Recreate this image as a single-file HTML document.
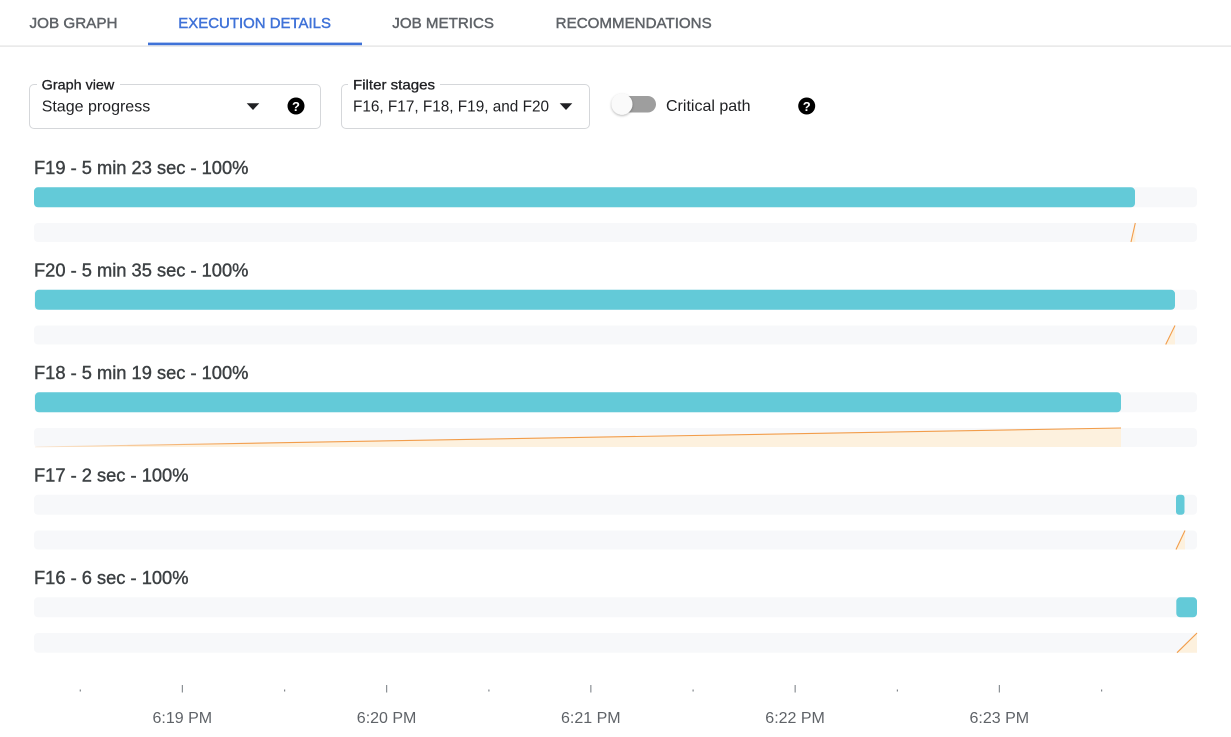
<!DOCTYPE html>
<html><head><meta charset="utf-8"><style>
html,body{margin:0;padding:0;background:#fff;width:1231px;height:737px;overflow:hidden}
svg{display:block}
text{font-family:"Liberation Sans",Arial,sans-serif}
.tab{font-size:15px;fill:#5f6368;stroke:#5f6368;stroke-width:0.45px}
.ttl{font-size:18.3px;fill:#3c4043;stroke:#3c4043;stroke-width:0.4px}
.ax{font-size:16px;fill:#5f6368}
</style></head><body>
<svg width="1231" height="737" viewBox="0 0 1231 737" xmlns="http://www.w3.org/2000/svg">
<defs>
<linearGradient id="og" x1="0" x2="1" y1="0" y2="0">
<stop offset="0" stop-color="#f29d4b" stop-opacity="0.15"/>
<stop offset="0.2" stop-color="#f29d4b" stop-opacity="1"/>
<stop offset="1" stop-color="#f29d4b"/>
</linearGradient>
<filter id="sh" x="-50%" y="-50%" width="200%" height="200%">
<feDropShadow dx="0" dy="1" stdDeviation="1.2" flood-color="#000" flood-opacity="0.3"/>
</filter>
</defs>
<!-- Tabs -->
<text class="tab" x="29.5" y="28.2" textLength="88" lengthAdjust="spacingAndGlyphs">JOB GRAPH</text>
<text class="tab" x="178.3" y="28.2" textLength="152.7" lengthAdjust="spacingAndGlyphs" style="fill:#3f72d8;stroke:#3f72d8">EXECUTION DETAILS</text>
<text class="tab" x="392.3" y="28.2" textLength="101.7" lengthAdjust="spacingAndGlyphs">JOB METRICS</text>
<text class="tab" x="555.7" y="28.2" textLength="156" lengthAdjust="spacingAndGlyphs">RECOMMENDATIONS</text>
<rect x="0" y="45.5" width="1231" height="1.2" fill="#e0e0e0"/>
<rect x="148" y="42.6" width="214" height="2.6" fill="#3f72d8"/>

<!-- Graph view box -->
<rect x="29.5" y="84.5" width="291" height="44" rx="4.5" fill="none" stroke="#d5d7da"/>
<rect x="37" y="80" width="83" height="8" fill="#fff"/>
<text x="41.7" y="89.3" font-size="14" fill="#202124" stroke="#202124" stroke-width="0.3" textLength="72.6" lengthAdjust="spacingAndGlyphs">Graph view</text>
<text x="41.7" y="111.7" font-size="16" fill="#202124">Stage progress</text>
<path d="M246.7 103.3 L259.3 103.3 L253 110 Z" fill="#202124"/>
<circle cx="296" cy="106" r="8.5" fill="#000"/>
<text x="296" y="110.8" font-size="13" font-weight="bold" fill="#fff" text-anchor="middle">?</text>

<!-- Filter stages box -->
<rect x="341.5" y="84.5" width="248" height="44" rx="4.5" fill="none" stroke="#d5d7da"/>
<rect x="348" y="80" width="92" height="8" fill="#fff"/>
<text x="353" y="89.3" font-size="14" fill="#202124" stroke="#202124" stroke-width="0.3" textLength="82" lengthAdjust="spacingAndGlyphs">Filter stages</text>
<text x="353" y="111.7" font-size="16" fill="#202124" textLength="196" lengthAdjust="spacingAndGlyphs">F16, F17, F18, F19, and F20</text>
<path d="M559.7 103.3 L572.3 103.3 L566 110 Z" fill="#202124"/>

<!-- Toggle -->
<rect x="612" y="96" width="44" height="16.5" rx="8.25" fill="#9e9e9e"/>
<circle cx="622" cy="104.2" r="10.5" fill="#fafafa" filter="url(#sh)"/>
<text x="666" y="111" font-size="16" fill="#202124">Critical path</text>
<circle cx="806.7" cy="106" r="8.5" fill="#000"/>
<text x="806.7" y="110.8" font-size="13" font-weight="bold" fill="#fff" text-anchor="middle">?</text>

<!-- Row F19 -->
<text class="ttl" x="34" y="174.2">F19 - 5 min 23 sec - 100%</text>
<rect x="34" y="187.3" width="1163" height="20" rx="4" fill="#f7f8fa"/>
<rect x="34" y="187.3" width="1101" height="20" rx="4" fill="#63cad8"/>
<rect x="34" y="223" width="1163" height="19" rx="4" fill="#f7f8fa"/>
<path d="M1131 242 L1135.3 223 L1135.3 242 Z" fill="#fdf1de"/>
<path d="M1131 242 L1135.3 223" stroke="#f29d4b" stroke-width="1.1" fill="none"/>

<!-- Row F20 -->
<text class="ttl" x="34" y="276.7">F20 - 5 min 35 sec - 100%</text>
<rect x="34" y="289.8" width="1163" height="20" rx="4" fill="#f7f8fa"/>
<rect x="35" y="289.8" width="1140" height="20" rx="4" fill="#63cad8"/>
<rect x="34" y="325.5" width="1163" height="19" rx="4" fill="#f7f8fa"/>
<path d="M1165.7 344.5 L1175 325.5 L1175 344.5 Z" fill="#fdf1de"/>
<path d="M1165.7 344.5 L1175 325.5" stroke="#f29d4b" stroke-width="1.1" fill="none"/>

<!-- Row F18 -->
<text class="ttl" x="34" y="379.2">F18 - 5 min 19 sec - 100%</text>
<rect x="34" y="392.3" width="1163" height="20" rx="4" fill="#f7f8fa"/>
<rect x="35" y="392.3" width="1086" height="20" rx="4" fill="#63cad8"/>
<rect x="34" y="428" width="1163" height="19" rx="4" fill="#f7f8fa"/>
<path d="M35 447 L1121 428 L1121 447 Z" fill="#fdf1de"/>
<path d="M35 447 L1121 428" stroke="url(#og)" stroke-width="1.1" fill="none"/>

<!-- Row F17 -->
<text class="ttl" x="34" y="481.7">F17 - 2 sec - 100%</text>
<rect x="34" y="494.8" width="1163" height="20" rx="4" fill="#f7f8fa"/>
<rect x="1176" y="494.8" width="8.5" height="20" rx="3" fill="#63cad8"/>
<rect x="34" y="530.5" width="1163" height="19" rx="4" fill="#f7f8fa"/>
<path d="M1176 549.5 L1185 530.5 L1185 549.5 Z" fill="#fdf1de"/>
<path d="M1176 549.5 L1185 530.5" stroke="#f29d4b" stroke-width="1.1" fill="none"/>

<!-- Row F16 -->
<text class="ttl" x="34" y="584.2">F16 - 6 sec - 100%</text>
<rect x="34" y="597.3" width="1163" height="20" rx="4" fill="#f7f8fa"/>
<rect x="1176.3" y="597.3" width="20.7" height="20" rx="4" fill="#63cad8"/>
<rect x="34" y="633" width="1163" height="19.7" rx="4" fill="#f7f8fa"/>
<path d="M1177 652.7 L1197 633 L1197 652.7 Z" fill="#fdf1de"/>
<path d="M1177 652.7 L1197 633" stroke="#f29d4b" stroke-width="1.1" fill="none"/>

<!-- Axis -->
<g fill="#80868b">
<rect x="79.7" y="689.5" width="1.2" height="2"/>
<rect x="284" y="689.5" width="1.2" height="2"/>
<rect x="488.3" y="689.5" width="1.2" height="2"/>
<rect x="692.5" y="689.5" width="1.2" height="2"/>
<rect x="896.8" y="689.5" width="1.2" height="2"/>
<rect x="1101" y="689.5" width="1.2" height="2"/>
<rect x="181.8" y="685" width="1.1" height="7.5"/>
<rect x="386.1" y="685" width="1.1" height="7.5"/>
<rect x="590.3" y="685" width="1.1" height="7.5"/>
<rect x="794.6" y="685" width="1.1" height="7.5"/>
<rect x="998.8" y="685" width="1.1" height="7.5"/>
</g>
<text class="ax" x="182.3" y="723" text-anchor="middle">6:19 PM</text>
<text class="ax" x="386.6" y="723" text-anchor="middle">6:20 PM</text>
<text class="ax" x="590.8" y="723" text-anchor="middle">6:21 PM</text>
<text class="ax" x="795.1" y="723" text-anchor="middle">6:22 PM</text>
<text class="ax" x="999.3" y="723" text-anchor="middle">6:23 PM</text>
</svg>
</body></html>
